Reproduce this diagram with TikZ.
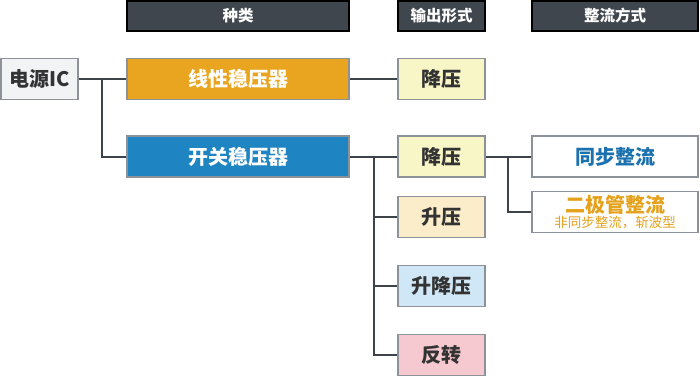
\documentclass[tikz,border=0pt]{standalone}
\usepackage{fontspec}
\setmainfont{Noto Sans CJK SC}
\usetikzlibrary{positioning, calc}
\definecolor{hdr-fill}{HTML}{3F464D}
\definecolor{box-border}{HTML}{8C9298}
\definecolor{wire-gray}{HTML}{3D4348}
\definecolor{ink-dark}{HTML}{333333}
\definecolor{ic-fill}{HTML}{F1F3F5}
\definecolor{linear-orange}{HTML}{E9A51F}
\definecolor{switch-blue}{HTML}{1F84C2}
\definecolor{buck-yellow}{HTML}{F8F5C7}
\definecolor{boost-cream}{HTML}{FBEDC9}
\definecolor{buckboost-blue}{HTML}{CFE7F6}
\definecolor{invert-pink}{HTML}{F6C9D0}
\definecolor{sync-blue}{HTML}{1B70AE}
\definecolor{diode-orange}{HTML}{E5A11A}
\tikzset{
  hdr-box/.style={
    draw=black, fill=hdr-fill, line width=1.5pt, text=white,
    minimum height=30pt, inner sep=0pt, font=\fontsize{15.5}{17}\selectfont\bfseries
  },
  tree-box/.style={
    draw=box-border, line width=1.8pt, minimum height=41pt, inner sep=0pt,
    text=ink-dark, align=center, font=\fontsize{20}{22}\selectfont\bfseries
  },
  wire/.style={draw=wire-gray, line width=2pt}
}
\begin{document}
\begin{tikzpicture}[x=1pt, y=-1pt]
  \useasboundingbox (0,0) rectangle (700,378);

  % column headers
  \node[hdr-box, minimum width=222pt] (h-kind) at (238,16) {种类};
  \node[hdr-box, minimum width=87pt] (h-out) at (441.5,16) {输出形式};
  \node[hdr-box, minimum width=166pt] (h-rect) at (615,16) {整流方式};

  % root and regulator kinds
  \node[tree-box, fill=ic-fill, minimum width=77pt] (ic) at (39.5,79) {电源IC};
  \node[tree-box, fill=linear-orange, text=white, minimum width=222pt] (linear) at (238,79) {线性稳压器};
  \node[tree-box, fill=switch-blue, text=white, minimum width=222pt] (switch) at (238,156.5) {开关稳压器};

  % output forms
  \node[tree-box, fill=buck-yellow, minimum width=87pt] (buck-a) at (441.5,79) {降压};
  \node[tree-box, fill=buck-yellow, minimum width=87pt] (buck-b) at (441.5,156.5) {降压};
  \node[tree-box, fill=boost-cream, minimum width=87pt] (boost) at (441.5,217) {升压};
  \node[tree-box, fill=buckboost-blue, minimum width=87pt] (buckboost) at (441.5,286) {升降压};
  \node[tree-box, fill=invert-pink, minimum width=87pt] (invert) at (441.5,355) {反转};

  % rectification
  \node[tree-box, fill=white, text=sync-blue, minimum width=166pt] (sync) at (615,156.5) {同步整流};
  \node[tree-box, fill=white, text=diode-orange, minimum width=166pt] (diode) at (615,212) {
    二极管整流\\[-7pt]
    {\fontsize{13.5}{15}\selectfont\mdseries 非同步整流，斩波型}
  };

  % branch points
  \coordinate (j-ic) at (102,79);
  \coordinate (j-sw) at (374,156.5);
  \coordinate (j-bk) at (508,156.5);

  % connectors
  \draw[wire] (ic) -- (linear);
  \draw[wire] (j-ic) |- (switch);
  \draw[wire] (linear) -- (buck-a);
  \draw[wire] (switch) -- (buck-b);
  \draw[wire] (j-sw) |- (boost);
  \draw[wire] (j-sw) |- (buckboost);
  \draw[wire] (j-sw) |- (invert);
  \draw[wire] (buck-b) -- (sync);
  \draw[wire] (j-bk) |- (diode);
\end{tikzpicture}
\end{document}
